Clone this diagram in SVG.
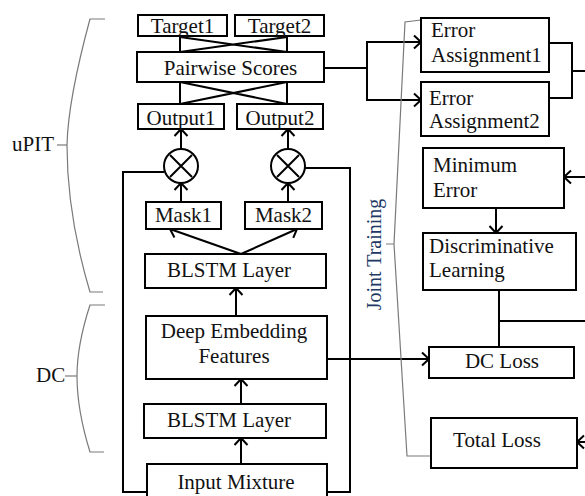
<svg xmlns="http://www.w3.org/2000/svg" width="585" height="496" viewBox="0 0 585 496">
<style>
.box{fill:#fff;stroke:#000;stroke-width:2}
.ln{fill:none;stroke:#000;stroke-width:2}
.ar{fill:none;stroke:#000;stroke-width:2;marker-end:url(#chev)}
.br{fill:none;stroke:#7a7a7a;stroke-width:1.2}
text{font-family:"Liberation Serif","Times New Roman",serif;font-size:21px;fill:#111}
.c{text-anchor:middle}
.jt{fill:#203864;font-size:20px}
</style>
<defs>
<marker id="chev" markerUnits="userSpaceOnUse" markerWidth="16" markerHeight="16" refX="11" refY="8" orient="auto" overflow="visible">
<path d="M4,1.5 L11,8 L4,14.5" fill="none" stroke="#000" stroke-width="2"/>
</marker>
</defs>
<rect width="585" height="496" fill="#fff"/>

<g id="connectors">
<!-- target/pairwise crossings -->
<path class="ln" d="M180,36 V52 M287,36 V52 M180,37 L287,52 M287,37 L180,52"/>
<path class="ln" d="M180,82 V104 M287,82 V104 M180,82 L287,104 M287,82 L180,104"/>
<!-- circle to outputs -->
<path class="ar" d="M181,149 V129"/>
<path class="ar" d="M288,149 V129"/>
<!-- masks to circles -->
<path class="ar" d="M181,202 V183"/>
<path class="ar" d="M288,202 V183"/>
<!-- BLSTM to masks -->
<path class="ar" d="M241,254 L170,229"/>
<path class="ar" d="M241,254 L297,229"/>
<!-- vertical chain -->
<path class="ar" d="M236,316 V288"/>
<path class="ar" d="M241,404 V379"/>
<path class="ar" d="M241,464 V438"/>
<!-- outer loops -->
<path class="ln" d="M164,172 H123 V492 H147"/>
<path class="ln" d="M305,168 H350 V492 H327"/>
<!-- pairwise to error assignment -->
<path class="ln" d="M324,68 H367 M367,42 V100"/>
<path class="ar" d="M366,42 H421"/>
<path class="ar" d="M366,100 H421"/>
<!-- error assignments join -->
<path class="ln" d="M549,43 H572 M549,98 H572 M572,42 V99 M572,71 H585"/>
<!-- into min error -->
<path class="ar" d="M585,177 H564"/>
<!-- min error to DL -->
<path class="ar" d="M496,208 V233"/>
<!-- DL to DC loss -->
<path class="ln" d="M499,290 V347 M499,321 H585"/>
<!-- DEF to DC Loss -->
<path class="ar" d="M327,359 H429"/>
<!-- into total loss -->
<path class="ar" d="M585,442 H577"/>
</g>

<g id="braces">
<path class="br" d="M105,19 H90 Q68,100 67,145 Q67,215 90,292 H103"/>
<path class="br" d="M57,145 H67"/>
<path class="br" d="M105,305 H90 Q77,345 77,376 Q77,410 90,452 H104"/>
<path class="br" d="M65,376 H77"/>
<path class="br" d="M421,20 L405,22 L394,244 M386,244 H394 L407,456 H431"/>
</g>

<g id="target1"><rect class="box" x="138" y="15" width="89" height="21"/><text class="c" x="182.5" y="33">Target1</text></g>
<g id="target2"><rect class="box" x="235" y="15" width="89" height="21"/><text class="c" x="279.5" y="33">Target2</text></g>
<g id="pairwise"><rect class="box" x="137" y="52" width="187" height="30"/><text class="c" x="230.5" y="75">Pairwise Scores</text></g>
<g id="output1"><rect class="box" x="138" y="104" width="86" height="25"/><text class="c" x="181" y="125">Output1</text></g>
<g id="output2"><rect class="box" x="237" y="104" width="86" height="25"/><text class="c" x="280" y="125">Output2</text></g>
<g id="mult1"><circle cx="181" cy="166" r="17" fill="#fff" stroke="#000" stroke-width="2"/><path class="ln" d="M170,155 L192,177 M192,155 L170,177"/></g>
<g id="mult2"><circle cx="288" cy="166" r="17" fill="#fff" stroke="#000" stroke-width="2"/><path class="ln" d="M277,155 L299,177 M299,155 L277,177"/></g>
<g id="mask1"><rect class="box" x="146" y="202" width="75" height="27"/><text class="c" x="183.5" y="222">Mask1</text></g>
<g id="mask2"><rect class="box" x="245" y="202" width="77" height="27"/><text class="c" x="283.5" y="222">Mask2</text></g>
<g id="blstm1"><rect class="box" x="145" y="254" width="181" height="34"/><text class="c" x="229" y="277">BLSTM Layer</text></g>
<g id="def"><rect class="box" x="146" y="316" width="181" height="63"/><text class="c" x="234" y="338">Deep Embedding</text><text class="c" x="234" y="363">Features</text></g>
<g id="blstm2"><rect class="box" x="144" y="404" width="182" height="34"/><text class="c" x="229" y="427">BLSTM Layer</text></g>
<g id="input"><rect class="box" x="147" y="464" width="180" height="40"/><text class="c" x="236" y="489">Input Mixture</text></g>

<g id="ea1"><rect class="box" x="421" y="18" width="128" height="54"/><text x="431" y="37">Error</text><text x="431" y="62">Assignment1</text></g>
<g id="ea2"><rect class="box" x="421" y="82" width="128" height="54"/><text x="429" y="105">Error</text><text x="429" y="128">Assignment2</text></g>
<g id="minerr"><rect class="box" x="423" y="148" width="141" height="60"/><text x="433" y="172">Minimum</text><text x="433" y="197">Error</text></g>
<g id="dl"><rect class="box" x="423" y="233" width="153" height="57"/><text x="429" y="253">Discriminative</text><text x="429" y="277">Learning</text></g>
<g id="dcloss"><rect class="box" x="429" y="347" width="145" height="31"/><text class="c" x="502" y="368">DC Loss</text></g>
<g id="totalloss"><rect class="box" x="431" y="418" width="146" height="50"/><text class="c" x="497" y="447">Total Loss</text></g>

<g id="labels">
<text x="12" y="151">uPIT</text>
<text x="36" y="382">DC</text>
<text class="c jt" transform="translate(381,254.5) rotate(-90)">Joint Training</text>
</g>
</svg>
